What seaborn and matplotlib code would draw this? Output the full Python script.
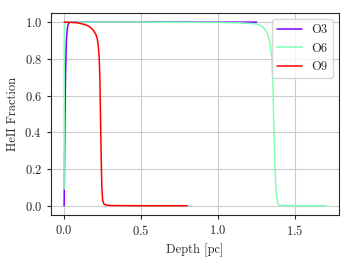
import matplotlib
matplotlib.use("Agg")
import matplotlib.pyplot as plt
import seaborn as sns
import pandas as pd

# HeII fraction profiles
o3_depth = [0.0, 0.001, 0.005, 0.01, 0.015, 0.02, 0.025, 0.03, 0.04, 0.06, 0.1, 0.5, 1.0, 1.25]
o3_frac = [0.0, 0.08, 0.45, 0.75, 0.9, 0.96, 0.985, 0.995, 1.0, 1.0, 1.0, 1.0, 1.0, 1.0]

o6_depth = [0.0, 0.001, 0.003, 0.01, 0.1, 0.5, 1.0, 1.15, 1.25, 1.29, 1.32, 1.338, 1.35, 1.355,
            1.36, 1.365, 1.37, 1.375, 1.38, 1.387, 1.395, 1.42, 1.5, 1.6, 1.7]
o6_frac = [0.09, 0.9, 0.99, 1.0, 1.0, 1.0, 0.998, 0.996, 0.99, 0.975, 0.94, 0.88, 0.8, 0.7,
           0.5, 0.35, 0.2, 0.1, 0.05, 0.012, 0.004, 0.001, 0.0, 0.0, 0.0]

o9_depth = [0.0, 0.03, 0.08, 0.12, 0.15, 0.17, 0.19, 0.205, 0.215, 0.222, 0.228, 0.232, 0.235,
            0.238, 0.241, 0.245, 0.25, 0.258, 0.27, 0.3, 0.5, 0.8]
o9_frac = [1.0, 0.999, 0.997, 0.99, 0.982, 0.972, 0.955, 0.935, 0.91, 0.87, 0.8, 0.7, 0.55,
           0.4, 0.25, 0.1, 0.03, 0.01, 0.004, 0.001, 0.0, 0.0]

models = ["O3", "O6", "O9"]

df = pd.concat([
    pd.DataFrame({"depth": o3_depth, "frac": o3_frac, "model": "O3"}),
    pd.DataFrame({"depth": o6_depth, "frac": o6_frac, "model": "O6"}),
    pd.DataFrame({"depth": o9_depth, "frac": o9_frac, "model": "O9"}),
], ignore_index=True)

sns.set_style("ticks", {"axes.grid": True, "grid.color": ".8"})
plt.rcParams["font.family"] = "serif"
plt.rcParams["font.serif"] = ["cmr10", "DejaVu Serif"]
plt.rcParams["mathtext.fontset"] = "cm"
plt.rcParams["axes.formatter.use_mathtext"] = True
plt.rcParams["font.size"] = 9

cmap = plt.get_cmap("rainbow")
palette = {"O3": cmap(0.0), "O6": cmap(0.5), "O9": cmap(1.0)}

fig, ax = plt.subplots(figsize=(3.52, 2.64), dpi=100)
sns.lineplot(data=df, x="depth", y="frac", hue="model", hue_order=models, palette=palette,
             estimator=None, sort=False, linewidth=1.1, ax=ax)

ax.set_xlabel("Depth [pc]", fontsize=9)
ax.set_ylabel("HeII Fraction", fontsize=9)
ax.set_xticks([0.0, 0.5, 1.0, 1.5])
ax.set_yticks([0.0, 0.2, 0.4, 0.6, 0.8, 1.0])
ax.tick_params(labelsize=9, length=3)
ax.legend(loc="upper right", fontsize=9)

fig.subplots_adjust(left=0.145, right=0.963, bottom=0.186, top=0.951)
fig.savefig("out.png", dpi=100)
